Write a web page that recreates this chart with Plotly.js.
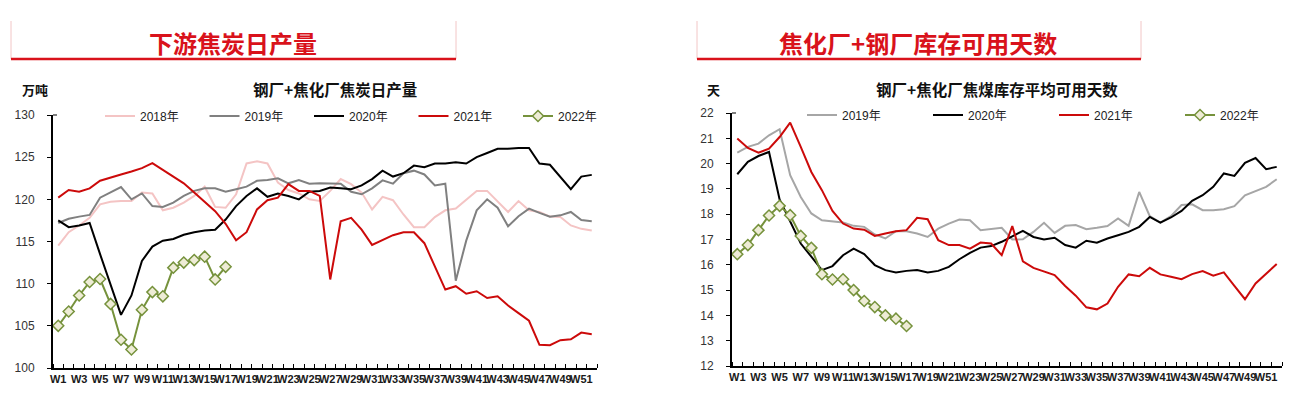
<!DOCTYPE html>
<html>
<head>
<meta charset="utf-8">
<script src="https://cdn.plot.ly/plotly-3.0.1.min.js"></script>
<style>
  body { margin: 0; background: #fff; }
  #chart { width: 1293px; height: 404px; }
</style>
</head>
<body>
<div id="chart"></div>
<script>
// week numbers W1..W52
const weeks = [];
for (let i = 1; i <= 52; i++) weeks.push(i);
const weeks2022 = weeks.slice(0, 17);
const tickWeeks = weeks.filter(w => w % 2 === 1);
const tickLabels = tickWeeks.map(w => 'W' + w);

// 钢厂+焦化厂焦炭日产量 (万吨)
const coke2018 = [114.5,116.1,116.9,117.8,119.4,119.7,119.8,119.8,120.8,120.7,
  118.7,119.0,119.6,120.4,121.5,119.1,119.0,120.6,124.25,124.5,
  124.25,122.0,121.1,120.7,120.0,119.8,121.0,122.4,121.8,120.8,
  118.8,120.3,119.9,118.2,116.7,116.7,117.9,118.7,118.9,120.0,
  121.0,121.0,119.8,118.5,119.8,118.7,118.5,117.95,117.9,116.9,
  116.5,116.3];
const coke2019 = [117.2,117.7,117.95,118.15,120.2,120.8,121.45,120.0,120.7,119.2,
  119.1,119.6,120.4,121.0,121.3,121.3,120.9,121.2,121.5,122.2,
  122.3,122.5,121.9,122.3,121.85,121.9,121.9,121.85,120.9,120.6,
  121.3,122.25,121.85,123.1,123.4,122.95,121.65,121.85,110.35,115.1,
  118.7,120.0,119.0,116.8,118.0,118.9,118.4,117.95,118.1,118.5,
  117.55,117.4];
const coke2020 = [117.5,116.7,116.9,117.2,113.5,109.8,106.3,108.6,112.7,114.4,
  115.1,115.3,115.8,116.1,116.3,116.4,117.6,119.2,120.4,121.3,
  120.3,120.7,120.4,120.0,120.9,121.0,121.4,121.3,121.2,121.65,
  122.4,123.4,122.7,123.1,124.0,123.8,124.25,124.25,124.4,124.25,
  125.0,125.5,126.0,126.0,126.1,126.1,124.25,124.1,122.6,121.2,
  122.7,122.9];
const coke2021 = [120.2,121.1,120.9,121.3,122.2,122.6,122.95,123.3,123.7,124.3,
  123.5,122.8,121.9,120.8,119.7,118.6,117.1,115.15,116.1,118.8,
  119.9,120.2,121.8,121.0,121.0,120.4,110.5,117.4,117.8,116.4,
  114.6,115.2,115.75,116.1,116.1,114.8,112.0,109.3,109.7,108.8,
  109.1,108.3,108.5,107.4,106.5,105.6,102.75,102.7,103.3,103.4,
  104.2,104.0];
const coke2022 = [105.0,106.7,108.6,110.2,110.55,107.6,103.35,102.2,106.9,109.0,
  108.5,111.9,112.5,112.8,113.2,110.5,112.0];

// 钢厂+焦化厂焦煤库存平均可用天数 (天)
const days2019 = [20.43,20.66,20.79,21.12,21.36,19.54,18.68,18.03,17.76,17.72,
  17.67,17.54,17.5,17.2,17.04,17.33,17.33,17.24,17.1,17.43,
  17.63,17.79,17.76,17.37,17.41,17.46,17.0,17.01,17.3,17.66,
  17.26,17.54,17.57,17.41,17.46,17.53,17.83,17.54,18.88,17.92,
  17.67,17.92,18.36,18.39,18.16,18.16,18.2,18.32,18.75,18.91,
  19.08,19.38];
const days2020 = [19.58,20.07,20.3,20.46,18.58,17.7,16.84,16.32,15.79,15.95,
  16.38,16.64,16.42,15.99,15.79,15.7,15.76,15.79,15.7,15.76,
  15.92,16.22,16.47,16.68,16.74,16.91,17.13,17.34,17.1,17.0,
  17.07,16.78,16.68,16.95,16.87,17.04,17.17,17.3,17.5,17.89,
  17.67,17.87,18.13,18.53,18.75,19.08,19.61,19.51,20.03,20.22,
  19.78,19.87];
const days2021 = [20.99,20.62,20.43,20.59,21.05,21.62,20.66,19.67,18.95,18.13,
  17.63,17.43,17.39,17.14,17.24,17.33,17.37,17.86,17.8,16.97,
  16.78,16.78,16.64,16.88,16.84,16.38,17.53,16.14,15.88,15.72,
  15.59,15.16,14.78,14.32,14.24,14.47,15.13,15.62,15.55,15.88,
  15.62,15.53,15.43,15.63,15.75,15.57,15.7,15.17,14.64,15.26,
  15.63,16.03];
const days2022 = [16.42,16.78,17.37,17.95,18.33,17.96,17.14,16.67,15.63,15.42,
  15.43,15.0,14.57,14.33,14.0,13.87,13.58];

const W = 1293, H = 404;
const px = x => x / W;
const py = y => 1 - y / H;

const cjk = 'Noto Sans CJK SC, sans-serif';
const num = 'Liberation Sans, Arial, sans-serif';
const red = '#d9121b';

function line(x, y, name, color, xa, ya, leg) {
  return {
    x: x, y: y, name: name, type: 'scatter', mode: 'lines',
    line: { color: color, width: 2 },
    xaxis: xa, yaxis: ya, legend: leg
  };
}
function markerLine(x, y, name, xa, ya, leg) {
  return {
    x: x, y: y, name: name, type: 'scatter', mode: 'lines+markers',
    line: { color: '#76923c', width: 2 },
    marker: { symbol: 'diamond', size: 8.5, color: '#eeecd6', line: { color: '#76923c', width: 1.5 } },
    xaxis: xa, yaxis: ya, legend: leg
  };
}

const traces = [
  line(weeks, coke2018, '2018年', '#f4c4c4', 'x', 'y', 'legend'),
  line(weeks, coke2019, '2019年', '#808080', 'x', 'y', 'legend'),
  line(weeks, coke2020, '2020年', '#000000', 'x', 'y', 'legend'),
  line(weeks, coke2021, '2021年', '#cc0a0a', 'x', 'y', 'legend'),
  markerLine(weeks2022, coke2022, '2022年', 'x', 'y', 'legend'),
  line(weeks, days2019, '2019年', '#a6a6a6', 'x2', 'y2', 'legend2'),
  line(weeks, days2020, '2020年', '#000000', 'x2', 'y2', 'legend2'),
  line(weeks, days2021, '2021年', '#cc0a0a', 'x2', 'y2', 'legend2'),
  markerLine(weeks2022, days2022, '2022年', 'x2', 'y2', 'legend2')
];

function xAxis(domain, anchor) {
  return {
    domain: domain, anchor: anchor, range: [0.5, 52.5], fixedrange: true,
    tickmode: 'array', tickvals: tickWeeks, ticktext: tickLabels, tickangle: 0,
    tickfont: { family: num, size: 11, color: '#1a1a1a', weight: 'bold' },
    ticks: '', showgrid: false, zeroline: false,
    showline: true, linecolor: '#000', linewidth: 2,
    minor: { tickmode: 'linear', tick0: 0.5, dtick: 1, ticks: 'inside', ticklen: 4, tickcolor: '#000', tickwidth: 1 }
  };
}
function yAxis(domain, anchor, range, dtick) {
  return {
    domain: domain, anchor: anchor, range: range, dtick: dtick, fixedrange: true,
    tickfont: { family: num, size: 12, color: '#333' },
    ticks: 'outside', ticklen: 4, tickcolor: '#000', tickwidth: 1,
    ticklabelstandoff: 10,
    showgrid: false, zeroline: false,
    showline: true, linecolor: '#000', linewidth: 2
  };
}

const legendBase = {
  orientation: 'h', xanchor: 'left', yanchor: 'middle',
  bgcolor: 'rgba(0,0,0,0)', traceorder: 'normal',
  font: { family: num + ', ' + cjk, size: 12, color: '#222' },
  entrywidthmode: 'pixels', itemclick: false, itemdoubleclick: false
};

function frameLine(x0, y0, x1, y1, color, width) {
  return { type: 'line', xref: 'paper', yref: 'paper', x0: px(x0), x1: px(x1), y0: py(y0), y1: py(y1),
    line: { color: color, width: width } };
}

const layout = {
  width: W, height: H,
  margin: { l: 0, r: 0, t: 0, b: 0, autoexpand: false },
  paper_bgcolor: '#fff', plot_bgcolor: 'rgba(0,0,0,0)',
  showlegend: true,
  xaxis: xAxis([px(53), px(597)], 'y'),
  yaxis: yAxis([py(368), py(115)], 'x', [100, 130], 5),
  xaxis2: xAxis([px(732), px(1282)], 'y2'),
  yaxis2: yAxis([py(366), py(113)], 'x2', [12, 22], 1),
  legend: Object.assign({}, legendBase, { x: px(100), y: py(116), entrywidth: 59.5 }),
  legend2: Object.assign({}, legendBase, { x: px(802), y: py(115), entrywidth: 81 }),
  shapes: [
    // header frames
    frameLine(11, 21, 11, 59, '#f2c6c6', 1),
    frameLine(456, 21, 456, 59, '#f2c6c6', 1),
    frameLine(11, 59, 456, 59, red, 2.5),
    frameLine(697, 21, 697, 59, '#f2c6c6', 1),
    frameLine(1141, 21, 1141, 59, '#f2c6c6', 1),
    frameLine(697, 59, 1141, 59, red, 2.5),
    // small stubs at the top of the value axes
    frameLine(53, 115, 57, 115, '#000', 1),
    frameLine(732, 113, 736, 113, '#000', 1)
  ],
  annotations: [
    { text: '下游焦炭日产量', x: px(233), y: py(43),
      font: { family: cjk, size: 24, color: red, weight: 'bold' } },
    { text: '焦化厂+钢厂库存可用天数', x: px(918), y: py(43),
      font: { family: cjk, size: 24, color: red, weight: 'bold' } },
    { text: '钢厂+焦化厂焦炭日产量', x: px(335), y: py(89),
      font: { family: cjk, size: 15.5, color: '#111', weight: 'bold' } },
    { text: '钢厂+焦化厂焦煤库存平均可用天数', x: px(997), y: py(89),
      font: { family: cjk, size: 15.5, color: '#111', weight: 'bold' } },
    { text: '万吨', x: px(35), y: py(90),
      font: { family: cjk, size: 13, color: '#111', weight: 'bold' } },
    { text: '天', x: px(714), y: py(90),
      font: { family: cjk, size: 13, color: '#111', weight: 'bold' } }
  ].map(a => Object.assign({ xref: 'paper', yref: 'paper', xanchor: 'center', yanchor: 'middle', showarrow: false }, a))
};

Plotly.newPlot('chart', traces, layout, { displayModeBar: false, staticPlot: true });
</script>
</body>
</html>
